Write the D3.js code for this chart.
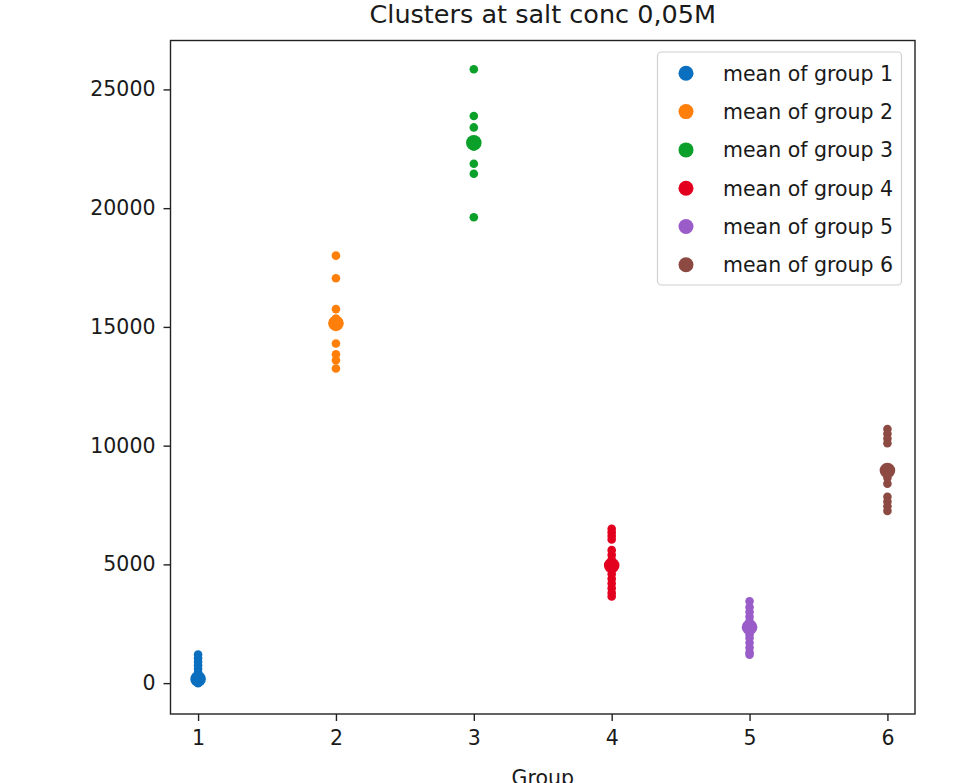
<!doctype html>
<html>
<head>
  <meta charset="utf-8">
  <script src="https://d3js.org/d3.v7.min.js"></script>
  <style>
    body { margin: 0; background: #fff; }
    text { font-family: "DejaVu Sans", sans-serif; fill: #1a1a1a; }
  </style>
</head>
<body>
  <script>

    // groups on the x axis
    var groups = [1, 2, 3, 4, 5, 6];

    // individual cluster values per group
    var group1 = [1200, 1050, 900, 750, 600, 450, 320, 220, 140, 80, 30, 0];
    var group2 = [18000, 17050, 15750, 15350, 14300, 13850, 13600, 13250];
    var group3 = [25850, 23880, 23400, 22600, 21870, 21450, 19620];
    var group4 = [6500, 6350, 6200, 6050, 5600, 5400, 5200, 5000, 4800, 4600, 4400, 4200, 4000, 3800, 3650];
    var group5 = [3450, 3200, 3000, 2800, 2600, 2450, 2300, 2200, 2050, 1900, 1700, 1500, 1300, 1200];
    var group6 = [10700, 10500, 10300, 10100, 8650, 8400, 7850, 7650, 7450, 7250];
    var points = [group1, group2, group3, group4, group5, group6];

    // mean of each group
    var means = [170, 15150, 22750, 4950, 2350, 8950];

    var yTicks = [0, 5000, 10000, 15000, 20000, 25000];
    var legendLabels = ["mean of group 1", "mean of group 2", "mean of group 3",
                        "mean of group 4", "mean of group 5", "mean of group 6"];

    var colors = ["#0b6fbf", "#ff7f0a", "#0ba02a", "#e3001f", "#9a5cc9", "#8c4a42"];

    var width = 954, height = 783;
    // plot frame (window.top is reserved, so use a prefix)
    var pLeft = 170.5, pRight = 915, pTop = 40.5, pBottom = 714;

    var svg = d3.select("body")
      .append("svg")
      .attr("width", width)
      .attr("height", height);

    var x = d3.scaleLinear().domain([0.8, 6.2]).range([pLeft, pRight]);
    var y = d3.scaleLinear().domain([-1300, 27060]).range([pBottom, pTop]);

    // title
    svg.append("text")
      .attr("x", (pLeft + pRight) / 2)
      .attr("y", 23)
      .attr("text-anchor", "middle")
      .style("font-size", "25.5px")
      .text("Clusters at salt conc 0,05M");

    // points
    var g = svg.append("g");
    points.forEach(function (vals, i) {
      g.selectAll(".p" + i)
        .data(vals)
        .enter()
        .append("circle")
        .attr("class", "p" + i)
        .attr("cx", x(groups[i]))
        .attr("cy", function (d) { return y(d); })
        .attr("r", 4.3)
        .attr("fill", colors[i]);
    });

    // means
    g.selectAll(".mean")
      .data(means)
      .enter()
      .append("circle")
      .attr("class", "mean")
      .attr("cx", function (d, i) { return x(groups[i]); })
      .attr("cy", function (d) { return y(d); })
      .attr("r", 7.8)
      .attr("fill", function (d, i) { return colors[i]; });

    // axes
    var xAxis = svg.append("g")
      .attr("transform", "translate(0," + pBottom + ")")
      .call(d3.axisBottom(x).tickValues(groups).tickSize(7).tickPadding(9).tickFormat(d3.format("d")));
    var yAxis = svg.append("g")
      .attr("transform", "translate(" + pLeft + ",0)")
      .call(d3.axisLeft(y).tickValues(yTicks).tickSize(7).tickPadding(8).tickFormat(d3.format("d")));

    [xAxis, yAxis].forEach(function (a) {
      a.select(".domain").remove();
      a.selectAll("line").attr("stroke", "#222").attr("stroke-width", 1.4);
      a.selectAll("text").style("font-size", "20.5px").attr("fill", "#1a1a1a");
    });

    // frame
    svg.append("rect")
      .attr("x", pLeft)
      .attr("y", pTop)
      .attr("width", pRight - pLeft)
      .attr("height", pBottom - pTop)
      .attr("fill", "none")
      .attr("stroke", "#222")
      .attr("stroke-width", 1.4);

    // x label
    svg.append("text")
      .attr("x", (pLeft + pRight) / 2)
      .attr("y", 785)
      .attr("text-anchor", "middle")
      .style("font-size", "20.5px")
      .text("Group");

    // legend
    var legend = svg.append("g");
    legend.append("rect")
      .attr("x", 657.5)
      .attr("y", 52)
      .attr("width", 244)
      .attr("height", 233)
      .attr("rx", 4)
      .attr("fill", "#fff")
      .attr("fill-opacity", 0.8)
      .attr("stroke", "#d0d0d0")
      .attr("stroke-width", 1.2);

    var items = legend.selectAll(".item")
      .data(legendLabels)
      .enter()
      .append("g")
      .attr("class", "item")
      .attr("transform", function (d, i) { return "translate(0," + (73.3 + i * 38.3) + ")"; });

    items.append("circle")
      .attr("cx", 686)
      .attr("cy", 0)
      .attr("r", 7.5)
      .attr("fill", function (d, i) { return colors[i]; });

    items.append("text")
      .attr("x", 723)
      .attr("y", 7.5)
      .style("font-size", "20.5px")
      .text(function (d) { return d; });

  </script>
</body>
</html>
